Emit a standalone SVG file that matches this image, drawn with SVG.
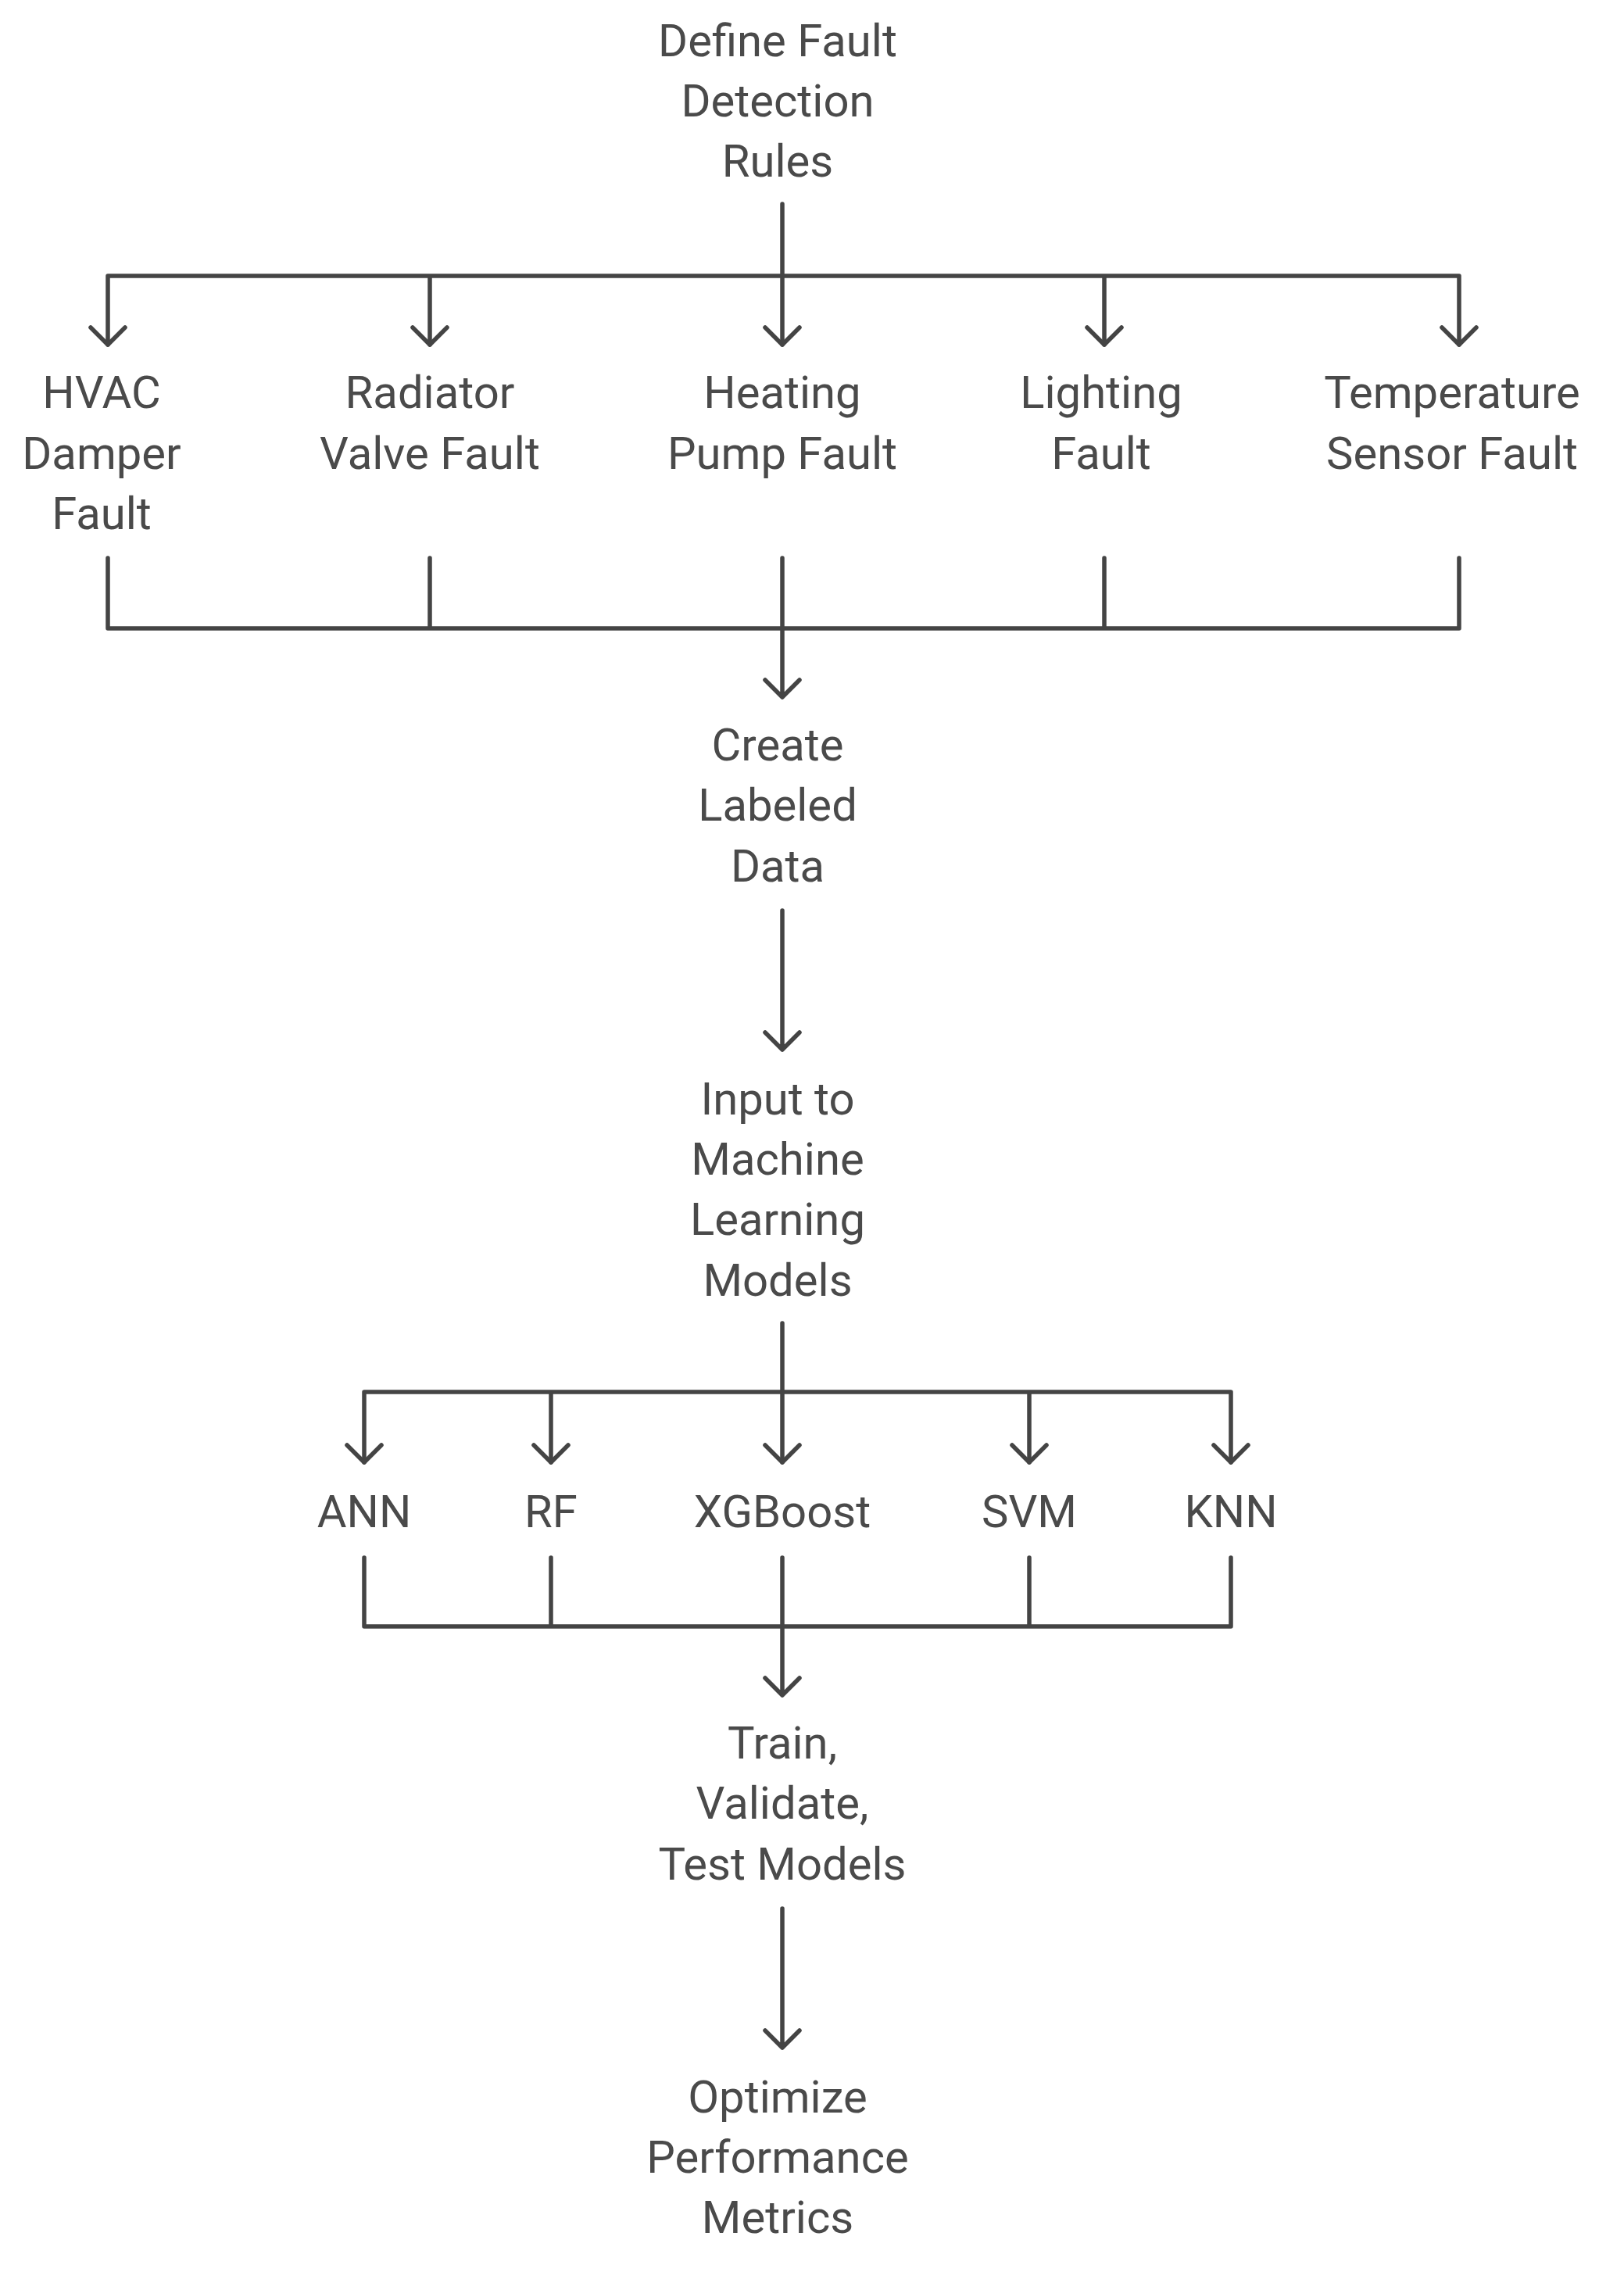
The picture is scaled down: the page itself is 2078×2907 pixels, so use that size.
<svg xmlns="http://www.w3.org/2000/svg" width="2078" height="2907" viewBox="0 0 2078 2907">
<style>
text{font-family:Roboto,"Liberation Sans",sans-serif;font-size:58px;fill:#4a4a4a;text-anchor:middle;dominant-baseline:central}
.c path{fill:none;stroke:#444;stroke-width:5.5;stroke-linecap:round;stroke-linejoin:round}
</style>
<defs><marker id="a" viewBox="0 0 20 20" refX="10" refY="18" markerWidth="20" markerHeight="20" markerUnits="userSpaceOnUse" orient="auto-start-reverse"><path d="M0 0"/></marker></defs>
<rect width="2078" height="2907" fill="#fff"/>
<g class="c" id="connectors">
<path d="M1001 261V441M138 353H1867M138 353V441M550 353V441M1413 353V441M1867 353V441"/>
<path d="M116 419L138 441L160 419M528 419L550 441L572 419M979 419L1001 441L1023 419M1391 419L1413 441L1435 419M1845 419L1867 441L1889 419"/>
<path d="M138 714V804M550 714V804M1001 714V892M1413 714V804M1867 714V804M138 804H1867M979 870L1001 892L1023 870"/>
<path d="M1001 1165V1343M979 1321L1001 1343L1023 1321"/>
<path d="M1001 1693V1871M466 1781H1575M466 1781V1871M705 1781V1871M1317 1781V1871M1575 1781V1871"/>
<path d="M444 1849L466 1871L488 1849M683 1849L705 1871L727 1849M979 1849L1001 1871L1023 1849M1295 1849L1317 1871L1339 1849M1553 1849L1575 1871L1597 1849"/>
<path d="M466 1993V2081M705 1993V2081M1001 1993V2169M1317 1993V2081M1575 1993V2081M466 2081H1575M979 2147L1001 2169L1023 2147"/>
<path d="M1001 2442V2620M979 2598L1001 2620L1023 2598"/>
</g>
<g id="n1"><text x="995" y="52">Define Fault</text><text x="995" y="129">Detection</text><text x="995" y="206">Rules</text></g>
<g id="n2"><text x="130" y="502">HVAC</text><text x="130" y="580">Damper</text><text x="130" y="657">Fault</text></g>
<g id="n3"><text x="550" y="502">Radiator</text><text x="550" y="580">Valve Fault</text></g>
<g id="n4"><text x="1001" y="502">Heating</text><text x="1001" y="580">Pump Fault</text></g>
<g id="n5"><text x="1409" y="502">Lighting</text><text x="1409" y="580">Fault</text></g>
<g id="n6"><text x="1858" y="502">Temperature</text><text x="1858" y="580">Sensor Fault</text></g>
<g id="n7"><text x="995" y="953">Create</text><text x="995" y="1030">Labeled</text><text x="995" y="1108">Data</text></g>
<g id="n8"><text x="995" y="1406">Input to</text><text x="995" y="1483">Machine</text><text x="995" y="1560">Learning</text><text x="995" y="1638">Models</text></g>
<g id="n9"><text x="466" y="1934">ANN</text></g>
<g id="n10"><text x="705" y="1934">RF</text></g>
<g id="n11"><text x="1001" y="1934">XGBoost</text></g>
<g id="n12"><text x="1317" y="1934">SVM</text></g>
<g id="n13"><text x="1575" y="1934">KNN</text></g>
<g id="n14"><text x="1001" y="2230">Train,</text><text x="1001" y="2307">Validate,</text><text x="1001" y="2385">Test Models</text></g>
<g id="n15"><text x="995" y="2683">Optimize</text><text x="995" y="2760">Performance</text><text x="995" y="2837">Metrics</text></g>
</svg>
